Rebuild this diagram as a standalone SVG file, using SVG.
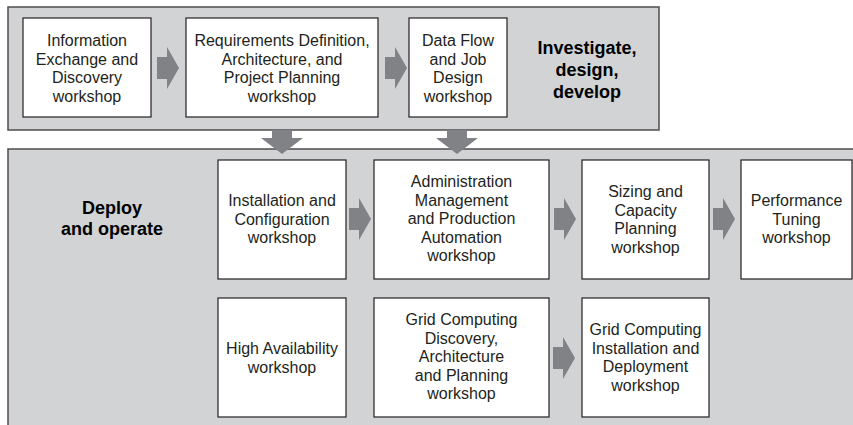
<svg xmlns="http://www.w3.org/2000/svg" width="853" height="425" viewBox="0 0 853 425">
<defs>
<style>
.panel{fill:#d1d3d4;stroke:#4d4d4f;stroke-width:1.5}
.box{fill:#ffffff;stroke:#231f20;stroke-width:1.2}
.t{font-family:"Liberation Sans",Arial,Helvetica,sans-serif;font-size:16px;fill:#231f20;text-anchor:middle}
.b{font-family:"Liberation Sans",Arial,Helvetica,sans-serif;font-size:18px;font-weight:bold;fill:#000;text-anchor:middle}
.arr{fill:#808285}
</style>
<path id="ra" d="M0,-11 H10 V-21 L22,0 L10,21 V11 H0 Z"/>
<path id="da" d="M-10,0 H10 V8 H21 L0,24 L-21,8 H-10 Z"/>
</defs>
<rect width="853" height="425" fill="#ffffff"/>
<g id="panel-top">
<rect class="panel" x="8" y="7" width="651" height="123"/>
<text class="b" x="587" y="54">Investigate,</text>
<text class="b" x="587" y="76">design,</text>
<text class="b" x="587" y="98">develop</text>
</g>
<g id="panel-bottom">
<rect class="panel" x="8" y="149" width="900" height="300"/>
<text class="b" x="112" y="214">Deploy</text>
<text class="b" x="112" y="235">and operate</text>
</g>
<g id="n-info">
<rect class="box" x="23" y="18" width="128" height="99"/>
<text class="t" x="87" y="46">Information</text>
<text class="t" x="87" y="64.7">Exchange and</text>
<text class="t" x="87" y="83.4">Discovery</text>
<text class="t" x="87" y="102">workshop</text>
</g>
<g id="n-req">
<rect class="box" x="186" y="18" width="192" height="99"/>
<text class="t" x="282" y="46">Requirements Definition,</text>
<text class="t" x="282" y="64.7">Architecture, and</text>
<text class="t" x="282" y="83.4">Project Planning</text>
<text class="t" x="282" y="102">workshop</text>
</g>
<g id="n-dataflow">
<rect class="box" x="409" y="18" width="98" height="99"/>
<text class="t" x="458" y="46">Data Flow</text>
<text class="t" x="458" y="64.7">and Job</text>
<text class="t" x="458" y="83.4">Design</text>
<text class="t" x="458" y="102">workshop</text>
</g>
<g id="n-install">
<rect class="box" x="218" y="160" width="128" height="119"/>
<text class="t" x="282" y="206">Installation and</text>
<text class="t" x="282" y="224.7">Configuration</text>
<text class="t" x="282" y="243.4">workshop</text>
</g>
<g id="n-admin">
<rect class="box" x="374" y="160" width="175" height="119"/>
<text class="t" x="461.5" y="187">Administration</text>
<text class="t" x="461.5" y="205.5">Management</text>
<text class="t" x="461.5" y="224">and Production</text>
<text class="t" x="461.5" y="242.5">Automation</text>
<text class="t" x="461.5" y="261">workshop</text>
</g>
<g id="n-sizing">
<rect class="box" x="582" y="160" width="127" height="119"/>
<text class="t" x="645.5" y="197">Sizing and</text>
<text class="t" x="645.5" y="215.7">Capacity</text>
<text class="t" x="645.5" y="234.4">Planning</text>
<text class="t" x="645.5" y="253">workshop</text>
</g>
<g id="n-perf">
<rect class="box" x="741" y="160" width="111" height="119"/>
<text class="t" x="796.5" y="206">Performance</text>
<text class="t" x="796.5" y="224.7">Tuning</text>
<text class="t" x="796.5" y="243.4">workshop</text>
</g>
<g id="n-ha">
<rect class="box" x="218" y="298" width="128" height="119"/>
<text class="t" x="282" y="354">High Availability</text>
<text class="t" x="282" y="372.5">workshop</text>
</g>
<g id="n-griddisc">
<rect class="box" x="374" y="298" width="175" height="119"/>
<text class="t" x="461.5" y="325">Grid Computing</text>
<text class="t" x="461.5" y="343.5">Discovery,</text>
<text class="t" x="461.5" y="362">Architecture</text>
<text class="t" x="461.5" y="380.5">and Planning</text>
<text class="t" x="461.5" y="399">workshop</text>
</g>
<g id="n-gridinst">
<rect class="box" x="582" y="298" width="127" height="119"/>
<text class="t" x="645.5" y="335">Grid Computing</text>
<text class="t" x="645.5" y="353.7">Installation and</text>
<text class="t" x="645.5" y="372.4">Deployment</text>
<text class="t" x="645.5" y="391">workshop</text>
</g>
<g id="connectors">
<use href="#ra" class="arr" x="157" y="68"/>
<use href="#ra" class="arr" x="385" y="68"/>
<use href="#da" class="arr" x="282" y="130"/>
<use href="#da" class="arr" x="457" y="130"/>
<use href="#ra" class="arr" x="349" y="219"/>
<use href="#ra" class="arr" x="554" y="219"/>
<use href="#ra" class="arr" x="713" y="219"/>
<use href="#ra" class="arr" x="553" y="358"/>
</g>
</svg>
